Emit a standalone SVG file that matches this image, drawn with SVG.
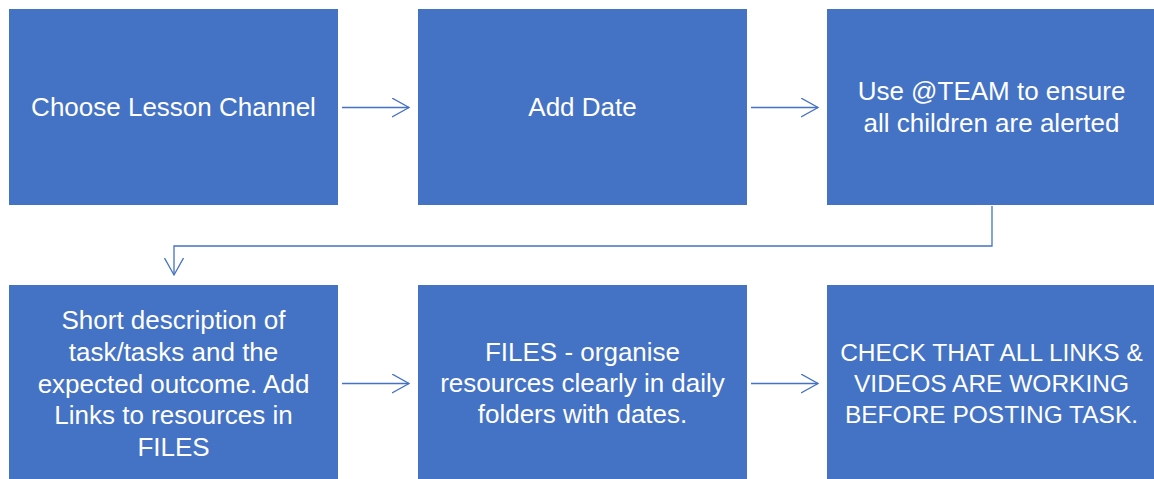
<svg xmlns="http://www.w3.org/2000/svg" width="1154" height="479" viewBox="0 0 1154 479">
<defs>
<marker id="arr" markerWidth="20" markerHeight="20" refX="17" refY="9.5" orient="auto" markerUnits="userSpaceOnUse">
<path d="M0,0 L17,9.5 L0,19" fill="none" stroke="#4472C4" stroke-width="1.3"/>
</marker>
</defs>
<style>
.box{fill:#4472C4}
.t{fill:#FFFFFF;font-family:"Liberation Sans",Arial,sans-serif;font-size:26px;text-anchor:middle}
.caps{font-size:24.5px}
.c{fill:none;stroke:#4472C4;stroke-width:1.3}
</style>
<rect width="1154" height="479" fill="#FFFFFF"/>
<g id="n1"><rect class="box" x="9" y="9" width="329" height="196"/><text class="t" x="173.5" y="116">Choose Lesson Channel</text></g>
<g id="n2"><rect class="box" x="418" y="9" width="329" height="196"/><text class="t" x="582.5" y="116">Add Date</text></g>
<g id="n3"><rect class="box" x="827" y="9" width="329" height="196"/><text class="t" x="991.5" y="100">Use @TEAM to ensure</text><text class="t" x="991.5" y="132">all children are alerted</text></g>
<g id="n4"><rect class="box" x="9" y="285" width="329" height="196"/>
<text class="t" x="173.5" y="329">Short description of</text>
<text class="t" x="173.5" y="361">task/tasks and the</text>
<text class="t" x="173.5" y="393">expected outcome. Add</text>
<text class="t" x="173.5" y="424">Links to resources in</text>
<text class="t" x="173.5" y="456">FILES</text></g>
<g id="n5"><rect class="box" x="418" y="285" width="329" height="196"/>
<text class="t" x="582.5" y="361">FILES - organise</text>
<text class="t" x="582.5" y="392">resources clearly in daily</text>
<text class="t" x="582.5" y="423">folders with dates.</text></g>
<g id="n6"><rect class="box" x="827" y="285" width="329" height="196"/>
<text class="t caps" x="991.5" y="361">CHECK THAT ALL LINKS &amp;</text>
<text class="t caps" x="991.5" y="392">VIDEOS ARE WORKING</text>
<text class="t caps" x="991.5" y="423">BEFORE POSTING TASK.</text></g>
<g id="connectors">
<line class="c" x1="342" y1="107.5" x2="409" y2="107.5" marker-end="url(#arr)"/>
<line class="c" x1="751" y1="107.5" x2="818" y2="107.5" marker-end="url(#arr)"/>
<polyline class="c" points="992,206 992,246 174,246 174,275" marker-end="url(#arr)"/>
<line class="c" x1="342" y1="383.5" x2="409" y2="383.5" marker-end="url(#arr)"/>
<line class="c" x1="751" y1="383.5" x2="818" y2="383.5" marker-end="url(#arr)"/>
</g>
</svg>
